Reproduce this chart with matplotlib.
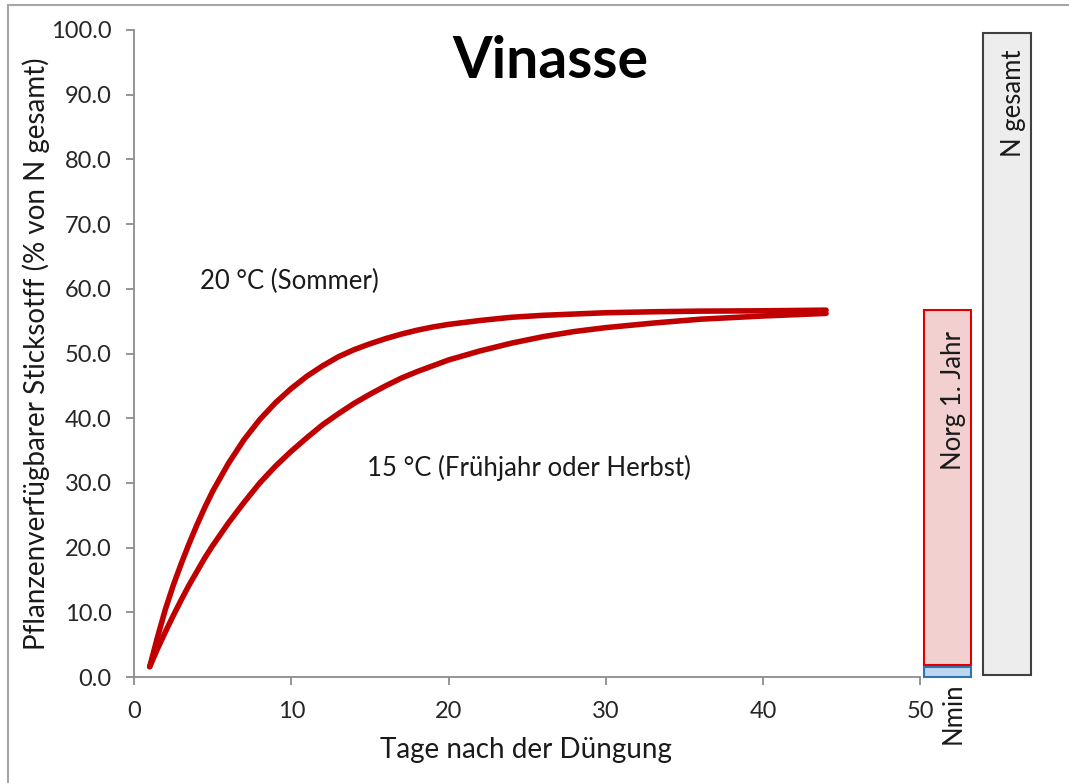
import matplotlib
matplotlib.use("Agg")
import matplotlib.pyplot as plt
from matplotlib.patches import Rectangle

# Tage nach der Düngung
days = [1, 1.5, 2, 2.5, 3, 3.5, 4, 4.5, 5, 6, 7, 8, 9, 10, 11, 12, 13, 14, 15, 16,
        17, 18, 19, 20, 22, 24, 26, 28, 30, 33, 36, 40, 44]
# 20 °C (Sommer)
n_summer = [1.6, 6.2, 10.5, 14.2, 17.5, 20.6, 23.5, 26.2, 28.7, 33.0, 36.7, 39.8,
            42.4, 44.6, 46.5, 48.1, 49.5, 50.6, 51.5, 52.3, 53.0, 53.6, 54.1, 54.5,
            55.1, 55.6, 55.9, 56.1, 56.3, 56.45, 56.55, 56.6, 56.7]
# 15 °C (Frühjahr oder Herbst)
n_spring = [1.6, 4.4, 7.0, 9.5, 11.9, 14.2, 16.3, 18.4, 20.3, 23.8, 27.0, 30.0,
            32.6, 34.9, 37.0, 39.0, 40.7, 42.3, 43.7, 45.0, 46.2, 47.2, 48.1, 49.0,
            50.4, 51.6, 52.6, 53.4, 54.0, 54.7, 55.3, 55.8, 56.2]

bar_names = ["Nmin", "Norg 1. Jahr", "N gesamt"]
bar_bottom = [0.0, 1.8, 0.3]
bar_top = [1.5, 56.8, 99.5]

plt.rcParams["font.family"] = ["Lato", "DejaVu Sans"]
dpi = 100
fig = plt.figure(figsize=(1069 / dpi, 783 / dpi), dpi=dpi)
ax = fig.add_axes([134 / 1069, 1 - 677 / 783, (1062 - 134) / 1069, (677 - 30) / 783])

red = "#C00000"
ax.plot(days, n_summer, color=red, lw=4, solid_capstyle="round", solid_joinstyle="round")
ax.plot(days, n_spring, color=red, lw=4, solid_capstyle="round", solid_joinstyle="round")

# Balken rechts neben der Achse
bar_x = [51.7, 51.7, 55.5]
bar_w = [3.0, 3.0, 3.0]
faces = ["#BDD7EE", "#F2D0D0", "#EDEDED"]
edges = ["#2E75B6", "#E00000", "#404040"]
for i in range(3):
    ax.bar(bar_x[i], bar_top[i] - bar_bottom[i], width=bar_w[i], bottom=bar_bottom[i],
           color=faces[i], edgecolor=edges[i], linewidth=1.5, clip_on=False, zorder=3)

lab = dict(rotation=90, ha="center", fontsize=18.5, color="#1a1a1a")
ax.text(52.1, 53.5, bar_names[1], va="top", zorder=4, **lab)
ax.text(55.9, 97.0, bar_names[2], va="top", zorder=4, **lab)
ax.text(52.1, -0.8, bar_names[0], va="top", clip_on=False, **lab)

ax.text(4.2, 61.2, "20 °C (Sommer)", fontsize=18.5, color="#1a1a1a", va="center")
ax.text(14.8, 32.3, "15 °C (Frühjahr oder Herbst)", fontsize=18.5, color="#1a1a1a",
        va="center")

fig.text(550 / 1069, 1 - 62 / 783, "Vinasse", fontsize=41, fontweight="bold",
         ha="center", va="center")

ax.set_xlim(0, 59)
ax.set_ylim(0, 100)
ax.set_xticks([0, 10, 20, 30, 40, 50])
ax.set_yticks([i * 10 for i in range(11)])
ax.set_yticklabels(["%.1f" % (i * 10) for i in range(11)])

for s in ["top", "right"]:
    ax.spines[s].set_visible(False)
ax.spines["bottom"].set_bounds(0, 50)
for s in ["left", "bottom"]:
    ax.spines[s].set_color("#8C8C8C")
    ax.spines[s].set_linewidth(1.3)
ax.tick_params(axis="both", colors="#8C8C8C", length=6, width=1.3, labelsize=17,
               labelcolor="#262626")
ax.tick_params(axis="x", pad=11)
ax.tick_params(axis="y", pad=10)

ax.set_xlabel("Tage nach der Düngung", fontsize=20, color="#1a1a1a")
ax.xaxis.set_label_coords(24.9 / 59, -0.092)
ax.set_ylabel("Pflanzenverfügbarer Sticksotff (% von N gesamt)", fontsize=20,
              color="#1a1a1a")
ax.yaxis.set_label_coords(-0.091, 0.5)

# grauer Rahmen
fig.patches.append(Rectangle((8 / 1069, -0.05), 1.1, 1.05 - 5 / 783,
                             transform=fig.transFigure, fill=False,
                             edgecolor="#A6A6A6", linewidth=1.5))

fig.savefig("out.png", dpi=dpi)
